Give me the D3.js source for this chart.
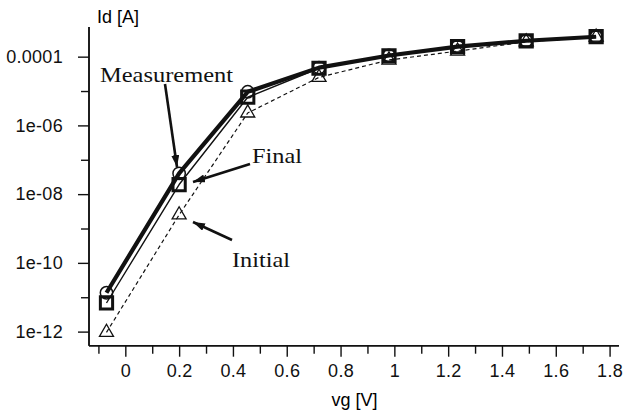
<!DOCTYPE html>
<html>
<head>
<meta charset="utf-8">
<script src="https://cdn.jsdelivr.net/npm/d3@7"></script>
<style>
body { margin:0; background:#fff; }
svg { display:block; }
.tk text { font-family:"Liberation Sans", Arial, sans-serif; font-size:18px; fill:#111; }
.ann { font-family:"Liberation Serif", "Times New Roman", serif; font-size:21px; fill:#111; }
</style>
</head>
<body>
<div id="chart"></div>
<script>
// vg [V] values of the sweep
var vg = [-0.07, 0.2, 0.455, 0.72, 0.98, 1.235, 1.49, 1.75];
// Id [A]
var measurement = [1.35e-11, 4.0e-8, 9.5e-6, 4.8e-5, 1.08e-4, 1.95e-4, 2.9e-4, 3.8e-4];
var finalFit    = [6.8e-12, 1.9e-8, 6.6e-6, 4.6e-5, 1.05e-4, 1.95e-4, 2.9e-4, 3.8e-4];
var initialFit  = [9.5e-13, 2.5e-9, 2.3e-6, 2.5e-5, 8.0e-5, 1.45e-4, 2.7e-4, 3.7e-4];

var xMajor = [0, 0.2, 0.4, 0.6, 0.8, 1, 1.2, 1.4, 1.6, 1.8];
var xMinor = [-0.1, 0.1, 0.3, 0.5, 0.7, 0.9, 1.1, 1.3, 1.5, 1.7];
var yMajor = [1e-4, 1e-6, 1e-8, 1e-10, 1e-12];
var yMajorLabels = ["0.0001", "1e-06", "1e-08", "1e-10", "1e-12"];
var yMinor = [1e-5, 1e-7, 1e-9, 1e-11];

var W = 632, H = 415;
var svg = d3.select("#chart").append("svg").attr("width", W).attr("height", H);

var x = d3.scaleLinear().domain([-0.135, 1.835]).range([89, 619]);
var y = d3.scaleLog().domain([Math.pow(10, -12.41), Math.pow(10, -3.137)]).range([345.7, 27]);

// axes
svg.append("g").attr("class", "tk").attr("transform", "translate(0,345.7)")
    .call(d3.axisBottom(x).tickValues(xMajor).tickSize(11).tickPadding(8)
        .tickFormat(function (d) { return d3.format("")(d); }));
svg.append("g").attr("transform", "translate(0,345.7)")
    .call(d3.axisBottom(x).tickValues(xMinor).tickSize(8).tickFormat(""));
svg.append("g").attr("class", "tk").attr("transform", "translate(89,0)")
    .call(d3.axisLeft(y).tickValues(yMajor).tickSize(11).tickPadding(15)
        .tickFormat(function (d, i) { return yMajorLabels[i]; }));
svg.append("g").attr("transform", "translate(89,0)")
    .call(d3.axisLeft(y).tickValues(yMinor).tickSize(8).tickFormat(""));

svg.selectAll(".domain").attr("stroke", "#111").attr("stroke-width", 1.5)
    .attr("d", function () { return d3.select(this.parentNode).attr("transform").indexOf("345.7") > 0 ? "M89,0H619" : "M0,27V345.7"; });
svg.selectAll(".tick line").attr("stroke", "#111").attr("stroke-width", 1.4);
svg.selectAll(".tk text").attr("fill", "#111").style("letter-spacing", "0.3px");

svg.append("text").attr("x", 97).attr("y", 23)
    .style("font-family", "Liberation Sans, Arial, sans-serif").style("font-size", "18px").text("Id [A]");
svg.append("text").attr("x", 354.5).attr("y", 406).attr("text-anchor", "middle")
    .style("font-family", "Liberation Sans, Arial, sans-serif").style("font-size", "18px").text("vg [V]");

// lines
function draw_line(vals, width, dash) {
    var line = d3.line().x(function (d, i) { return x(vg[i]); }).y(function (d) { return y(d); });
    svg.append("path").datum(vals).attr("d", line).attr("fill", "none")
        .attr("stroke", "#111").attr("stroke-width", width)
        .attr("stroke-dasharray", dash).attr("stroke-linejoin", "round");
}
draw_line(initialFit, 1.2, "4,3");
draw_line(finalFit, 1.4, null);
draw_line(measurement, 4.2, null);

function draw_marks(vals, type, size, sw) {
    svg.append("g").selectAll("path").data(vals).enter().append("path")
        .attr("transform", function (d, i) { return "translate(" + x(vg[i]) + "," + y(d) + ")"; })
        .attr("d", d3.symbol().type(type).size(size))
        .attr("fill", "none")
        .attr("stroke", "#111").attr("stroke-width", sw);
}
draw_marks(initialFit, d3.symbolTriangle, 85, 1.3);
draw_marks(measurement, d3.symbolCircle, 120, 1.5);
draw_marks(finalFit, d3.symbolSquare, 150, 3);

// annotations
var defs = svg.append("defs");
defs.append("marker").attr("id", "ah").attr("viewBox", "0 0 12 8").attr("refX", 12).attr("refY", 4)
    .attr("markerWidth", 12).attr("markerHeight", 8).attr("markerUnits", "userSpaceOnUse").attr("orient", "auto")
    .append("path").attr("d", "M0,0L12,4L0,8Z").attr("fill", "#111");

function annotate(label, tx, ty, len, x1, y1, x2, y2) {
    svg.append("text").attr("class", "ann").attr("x", tx).attr("y", ty)
        .attr("textLength", len).attr("lengthAdjust", "spacingAndGlyphs").text(label);
    svg.append("line").attr("x1", x1).attr("y1", y1).attr("x2", x2).attr("y2", y2)
        .attr("stroke", "#111").attr("stroke-width", 2.6).attr("marker-end", "url(#ah)");
}
annotate("Measurement", 100, 81.5, 133, 165, 84, 177, 167);
annotate("Final", 252, 162.5, 50, 250, 164, 193, 182);
annotate("Initial", 232, 266.5, 58, 232, 240, 193, 222);
</script>
</body>
</html>
